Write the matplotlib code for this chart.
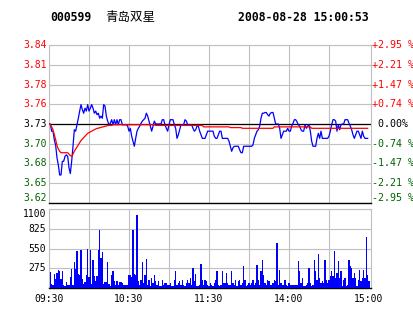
import numpy as np
import matplotlib
matplotlib.use("Agg")
import matplotlib.pyplot as plt

# 000599 青岛双星 分时图 2008-08-28
code = "000599"
name = "青岛双星"
stamp = "2008-08-28 15:00:53"
prev_close = 3.73
pct_range = 0.0295

# 每分钟成交价 (09:30 起)
price = [
    3.730, 3.730, 3.720, 3.720, 3.708, 3.700, 3.683, 3.673, 3.659, 3.659,
    3.678, 3.678, 3.685, 3.687, 3.685, 3.669, 3.661, 3.678, 3.699, 3.722,
    3.720, 3.729, 3.738, 3.748, 3.757, 3.750, 3.745, 3.752, 3.748, 3.757,
    3.748, 3.752, 3.757, 3.752, 3.745, 3.748, 3.743, 3.745, 3.738, 3.741,
    3.738, 3.757, 3.755, 3.741, 3.734, 3.729, 3.731, 3.736, 3.729, 3.736,
    3.729, 3.736, 3.729, 3.736, 3.736, 3.729, 3.729, 3.729, 3.729, 3.727,
    3.720, 3.724, 3.713, 3.706, 3.699, 3.710, 3.720, 3.724, 3.727, 3.731,
    3.734, 3.736, 3.738, 3.745, 3.741, 3.734, 3.727, 3.720, 3.727, 3.734,
    3.730, 3.730, 3.730, 3.730, 3.730, 3.736, 3.736, 3.729, 3.724, 3.720,
    3.729, 3.736, 3.736, 3.736, 3.729, 3.724, 3.710, 3.715, 3.722, 3.729,
    3.729, 3.729, 3.736, 3.734, 3.729, 3.729, 3.729, 3.729, 3.724, 3.720,
    3.722, 3.727, 3.727, 3.720, 3.715, 3.710, 3.710, 3.710, 3.715, 3.720,
    3.720, 3.720, 3.720, 3.720, 3.713, 3.710, 3.710, 3.715, 3.720, 3.720,
    3.710, 3.710, 3.710, 3.710, 3.710, 3.706, 3.699, 3.692, 3.697, 3.699,
    3.699, 3.699, 3.699, 3.694, 3.690, 3.690, 3.699, 3.699, 3.699, 3.699,
    3.699, 3.699, 3.699, 3.701, 3.710, 3.715, 3.720, 3.722, 3.727, 3.738,
    3.745, 3.745, 3.746, 3.746, 3.743, 3.741, 3.745, 3.746, 3.746, 3.738,
    3.730, 3.730, 3.730, 3.724, 3.710, 3.715, 3.720, 3.720, 3.720, 3.724,
    3.720, 3.720, 3.727, 3.731, 3.736, 3.736, 3.733, 3.729, 3.727, 3.722,
    3.720, 3.720, 3.729, 3.724, 3.727, 3.729, 3.720, 3.706, 3.699, 3.699,
    3.699, 3.710, 3.717, 3.710, 3.720, 3.710, 3.710, 3.710, 3.710, 3.710,
    3.713, 3.720, 3.729, 3.736, 3.736, 3.734, 3.720, 3.729, 3.722, 3.729,
    3.730, 3.730, 3.736, 3.736, 3.736, 3.731, 3.727, 3.722, 3.715, 3.710,
    3.715, 3.720, 3.720, 3.715, 3.710, 3.720, 3.713, 3.710, 3.710, 3.710,
]

# 均价线
avg_price = [
    3.730, 3.729, 3.726, 3.722, 3.715, 3.708, 3.700, 3.695, 3.692, 3.690,
    3.690, 3.690, 3.690, 3.690, 3.690, 3.688, 3.686, 3.685, 3.688, 3.692,
    3.695, 3.698, 3.701, 3.704, 3.707, 3.709, 3.711, 3.713, 3.715, 3.717,
    3.718, 3.719, 3.720, 3.721, 3.722, 3.723, 3.724, 3.724, 3.725, 3.725,
    3.726, 3.726, 3.727, 3.727, 3.728, 3.728, 3.728, 3.728, 3.729, 3.729,
    3.729, 3.729, 3.729, 3.729, 3.729, 3.729, 3.729, 3.729, 3.729, 3.729,
    3.729, 3.729, 3.729, 3.729, 3.729, 3.729, 3.729, 3.729, 3.729, 3.729,
    3.729, 3.729, 3.729, 3.729, 3.729, 3.729, 3.729, 3.729, 3.729, 3.729,
    3.728, 3.728, 3.728, 3.728, 3.728, 3.728, 3.728, 3.728, 3.728, 3.728,
    3.728, 3.728, 3.728, 3.728, 3.728, 3.728, 3.728, 3.728, 3.728, 3.728,
    3.728, 3.728, 3.728, 3.728, 3.728, 3.728, 3.728, 3.728, 3.728, 3.728,
    3.728, 3.728, 3.728, 3.728, 3.728, 3.728, 3.726, 3.726, 3.726, 3.726,
    3.726, 3.726, 3.726, 3.726, 3.726, 3.726, 3.726, 3.726, 3.726, 3.726,
    3.726, 3.726, 3.726, 3.726, 3.726, 3.726, 3.725, 3.725, 3.725, 3.725,
    3.725, 3.725, 3.725, 3.725, 3.725, 3.724, 3.724, 3.724, 3.724, 3.724,
    3.724, 3.724, 3.724, 3.724, 3.724, 3.724, 3.724, 3.724, 3.724, 3.724,
    3.724, 3.724, 3.724, 3.724, 3.724, 3.724, 3.724, 3.724, 3.724, 3.726,
    3.726, 3.726, 3.726, 3.726, 3.726, 3.726, 3.726, 3.726, 3.726, 3.726,
    3.726, 3.726, 3.726, 3.726, 3.726, 3.726, 3.726, 3.726, 3.726, 3.726,
    3.726, 3.726, 3.726, 3.726, 3.726, 3.726, 3.726, 3.724, 3.724, 3.724,
    3.724, 3.724, 3.724, 3.724, 3.724, 3.724, 3.724, 3.724, 3.724, 3.724,
    3.724, 3.724, 3.724, 3.724, 3.724, 3.724, 3.724, 3.724, 3.724, 3.724,
    3.724, 3.724, 3.724, 3.724, 3.724, 3.724, 3.724, 3.724, 3.724, 3.724,
    3.724, 3.724, 3.724, 3.724, 3.724, 3.724, 3.724, 3.724, 3.724, 3.724,
]

# 每分钟成交量 (09:31 起)
volume = [
    223, 56, 37, 195, 130, 209, 250, 232, 130, 241,
    37, 28, 84, 46, 37, 148, 269, 46, 362, 269,
    520, 200, 186, 534, 130, 56, 84, 176, 548, 148,
    534, 56, 394, 162, 102, 162, 534, 812, 418, 501,
    60, 84, 84, 362, 56, 32, 176, 232, 93, 46,
    93, 46, 79, 84, 70, 46, 37, 46, 46, 180,
    176, 148, 812, 200, 176, 1020, 93, 46, 116, 366,
    70, 186, 399, 46, 116, 23, 139, 70, 186, 93,
    46,
    93, 23, 23, 116, 46, 70, 70, 46, 46, 70,
    23, 23, 116, 232, 46, 70, 93, 46, 116, 46,
    23, 70, 116, 70, 139, 46, 278, 93, 195, 23,
    23, 46, 334, 116, 46, 116, 93, 46, 23, 70,
    46, 23, 70, 116, 232, 46, 23, 46, 232, 70,
    70, 209, 70, 46, 46, 232, 70, 46, 116, 23,
    93, 116, 46, 70, 311, 116, 23, 46, 70, 46,
    70, 116, 46, 70, 325, 116, 46, 232, 394, 186,
    70, 46, 116, 93, 46, 46, 70, 116, 93, 626,
    46, 255, 70, 46, 46, 116, 46, 23, 70, 46,
    46, 46, 46, 46, 46, 371, 232, 70, 139, 23,
    23, 46, 70, 278, 70, 23, 46, 394, 232, 116,
    473, 139, 70, 93, 70, 394, 116, 70, 116, 162,
    232, 162, 510, 139, 209, 371, 139, 241, 23, 116,
    139, 23, 46, 394, 302, 278, 139, 209, 139, 23,
    116, 255, 93, 139, 255, 139, 705, 186, 93,
]

price_labels = ["3.84", "3.81", "3.78", "3.76", "3.73", "3.70", "3.68", "3.65", "3.62"]
pct_labels = ["+2.95 %", "+2.21 %", "+1.47 %", "+0.74 %", " 0.00%",
              "-0.74 %", "-1.47 %", "-2.21 %", "-2.95 %"]
vol_ticks = [1100, 825, 550, 275]
time_labels = ["09:30", "10:30", "11:30", "14:00", "15:00"]
time_pos = [0, 60, 120, 180, 240]

RED = "#ff0000"
GREEN = "#006400"
GRID = "#c0c0c0"
MONO = "DejaVu Sans Mono"

W, H = 414, 314
fig = plt.figure(figsize=(W / 100, H / 100), dpi=100)
fig.patch.set_facecolor("white")

def frac(x0, y0, x1, y1):
    return [x0 / W, 1 - y1 / H, (x1 - x0) / W, (y1 - y0) / H]

ax = fig.add_axes(frac(49, 45, 371, 203))
vax = fig.add_axes(frac(49, 209, 371, 288))

span = prev_close * pct_range
levels = [prev_close + span * (4 - k) / 4 for k in range(9)]

for a in (ax, vax):
    a.set_xlim(0, 241.5)
    a.set_xticks(range(30, 240, 30))
    a.tick_params(length=0, labelbottom=False, labelleft=False)
    a.grid(True, color=GRID, lw=0.8)
    a.set_axisbelow(True)
    for s in ("top", "left", "right"):
        a.spines[s].set_color(GRID)
        a.spines[s].set_linewidth(0.8)
    a.spines["bottom"].set_color("black")
    a.spines["bottom"].set_linewidth(1.0)

ax.set_ylim(prev_close - span, prev_close + span)
ax.set_yticks(levels)
ax.axhline(prev_close, color="black", lw=0.9, zorder=2)
ax.plot(np.arange(len(price)), price, color="#0000ff", lw=0.9, zorder=3)
ax.plot(np.arange(len(avg_price)), avg_price, color=RED, lw=0.9, zorder=4)

vax.set_ylim(0, 1100)
vax.set_yticks(vol_ticks)
vax.bar(np.arange(1, len(volume) + 1), volume, width=0.8, color="#0000ff",
        lw=0, antialiased=False, zorder=3)

tr = ax.get_yaxis_transform()
for k, (lv, lab, pl) in enumerate(zip(levels, price_labels, pct_labels)):
    col = RED if k < 4 else ("black" if k == 4 else GREEN)
    va = "bottom" if k == 8 else "center"
    ax.text(-0.008, lv, lab, transform=tr, ha="right", va=va, color=col,
            fontsize=7, family=MONO)
    ax.text(1.003, lv, pl, transform=tr, ha="left", va=va, color=col,
            fontsize=7.2, family=MONO)

vtr = vax.get_yaxis_transform()
for v in vol_ticks:
    vax.text(-0.008, v, str(v), transform=vtr, ha="right",
             va="top" if v == 1100 else "center", fontsize=7, family=MONO)

ttr = vax.get_xaxis_transform()
for p, lab in zip(time_pos, time_labels):
    vax.text(p, -0.08, lab, transform=ttr, ha="center", va="top",
             fontsize=7, family=MONO)

ty = 1 - 17.5 / H
fig.text(50 / W, ty, code, ha="left", va="center", fontsize=8.3,
         family=MONO, weight="bold")
fig.text(105 / W, ty, name, ha="left", va="center", fontsize=9,
         family=["Noto Sans CJK SC", "DejaVu Sans"])
fig.text(238 / W, ty, stamp, ha="left", va="center", fontsize=8.3,
         family=MONO, weight="bold")

fig.savefig("out.png", dpi=100)
